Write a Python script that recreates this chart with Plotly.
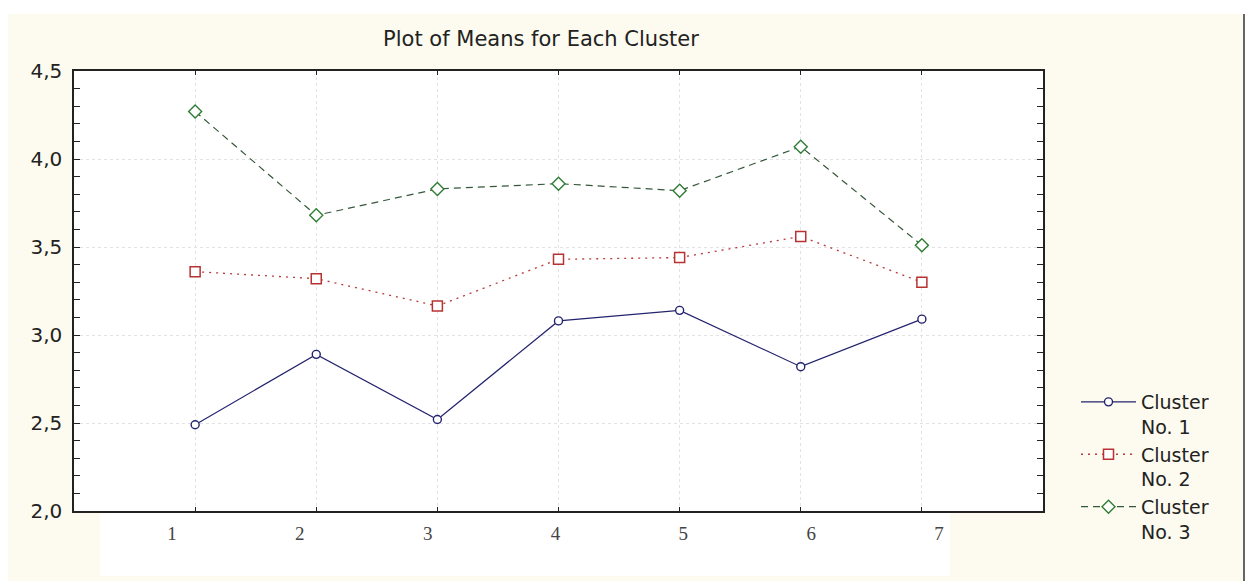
import plotly.graph_objects as go

variables = [1, 2, 3, 4, 5, 6, 7]
tick_labels = ["1", "2", "3", "4", "5", "6", "7"]
cluster1 = [2.49, 2.89, 2.52, 3.08, 3.14, 2.82, 3.09]
cluster2 = [3.36, 3.32, 3.165, 3.43, 3.44, 3.56, 3.30]
cluster3 = [4.27, 3.68, 3.83, 3.86, 3.82, 4.07, 3.51]
names = ["Cluster<br>No. 1", "Cluster<br>No. 2", "Cluster<br>No. 3"]

W, H = 1249, 581
L, R, T, B = 74, 1043, 71, 511

def px(x):
    return (x - L) / (R - L)

def py(y):
    return (B - y) / (B - T)

SANS = "DejaVu Sans, Arial"

fig = go.Figure()
fig.add_trace(go.Scatter(
    x=variables, y=cluster1, name=names[0], mode="lines+markers",
    line=dict(color="#23236e", width=1.2),
    marker=dict(symbol="circle", size=8, color="white", line=dict(color="#23236e", width=1.4)),
))
fig.add_trace(go.Scatter(
    x=variables, y=cluster2, name=names[1], mode="lines+markers",
    line=dict(color="#b83a3a", width=1.3, dash="2px,5px"),
    marker=dict(symbol="square", size=10, color="white", line=dict(color="#b83232", width=1.5)),
))
fig.add_trace(go.Scatter(
    x=variables, y=cluster3, name=names[2], mode="lines+markers",
    line=dict(color="#35573a", width=1.2, dash="7px,5px"),
    marker=dict(symbol="diamond", size=10, color="white", line=dict(color="#2e7d32", width=1.4)),
))
# label axis trace (no visible marks)
fig.add_trace(go.Scatter(x=variables, y=[None] * len(variables), xaxis="x2",
                         showlegend=False, hoverinfo="skip", mode="lines"))

cream = "#fdfbef"
shapes = [
    dict(type="rect", xref="paper", yref="paper", x0=px(0), x1=px(1249), y0=py(14), y1=py(0),
         fillcolor="white", line=dict(width=0), layer="below"),
    dict(type="rect", xref="paper", yref="paper", x0=px(0), x1=px(8), y0=py(581), y1=py(0),
         fillcolor="white", line=dict(width=0), layer="below"),
    dict(type="rect", xref="paper", yref="paper", x0=px(1244), x1=px(1249), y0=py(581), y1=py(0),
         fillcolor="white", line=dict(width=0), layer="below"),
    dict(type="line", xref="paper", yref="paper", x0=px(1244), x1=px(1244), y0=py(581), y1=py(14),
         line=dict(color="#333", width=1.5)),
    dict(type="rect", xref="paper", yref="paper", x0=px(100), x1=px(950), y0=py(576), y1=py(513),
         fillcolor="white", line=dict(width=0), layer="below"),
]

fig.update_layout(
    width=W, height=H,
    margin=dict(l=L, r=W - R, t=T, b=H - B),
    paper_bgcolor=cream, plot_bgcolor="white",
    separators=",.",
    title=dict(text="Plot of Means for Each Cluster", xref="container", x=541 / W, xanchor="center",
               yref="container", y=1 - 39 / H, yanchor="middle",
               font=dict(family=SANS, size=21, color="#222")),
    font=dict(family=SANS, color="#222"),
    xaxis=dict(range=[0, 8], tickvals=variables, showticklabels=False,
               ticks="inside", ticklen=4, tickcolor="#222",
               showline=True, linecolor="#222", linewidth=1.5, mirror="allticks",
               showgrid=True, gridcolor="#e2e2e2", griddash="dot", gridwidth=1, zeroline=False),
    xaxis2=dict(overlaying="x", anchor="y", side="bottom", range=[0.233, 7.814],
                tickvals=variables, ticktext=tick_labels, showline=False, showgrid=False,
                zeroline=False, ticks="", ticklabelstandoff=9,
                tickfont=dict(family="Liberation Serif, Times New Roman", size=19, color="#444")),
    yaxis=dict(range=[2.0, 4.5], tickvals=[2.0, 2.5, 3.0, 3.5, 4.0, 4.5], tickformat=".1f",
               ticks="inside", ticklen=6, tickcolor="#222", ticklabelstandoff=6,
               minor=dict(dtick=0.1, ticks="inside", ticklen=4, tickcolor="#222", showgrid=False),
               showline=True, linecolor="#222", linewidth=1.5, mirror="allticks",
               showgrid=True, gridcolor="#e2e2e2", griddash="dot", gridwidth=1, zeroline=False,
               tickfont=dict(family=SANS, size=20, color="#222")),
    legend=dict(x=px(1076), xanchor="left", y=py(383), yanchor="top",
                bgcolor="rgba(0,0,0,0)", valign="top", itemwidth=55,
                font=dict(family=SANS, size=19, color="#222")),
    shapes=shapes,
)

fig.write_html("out.html", post_script="document.body.style.margin='0';",
               config={"displayModeBar": False})
